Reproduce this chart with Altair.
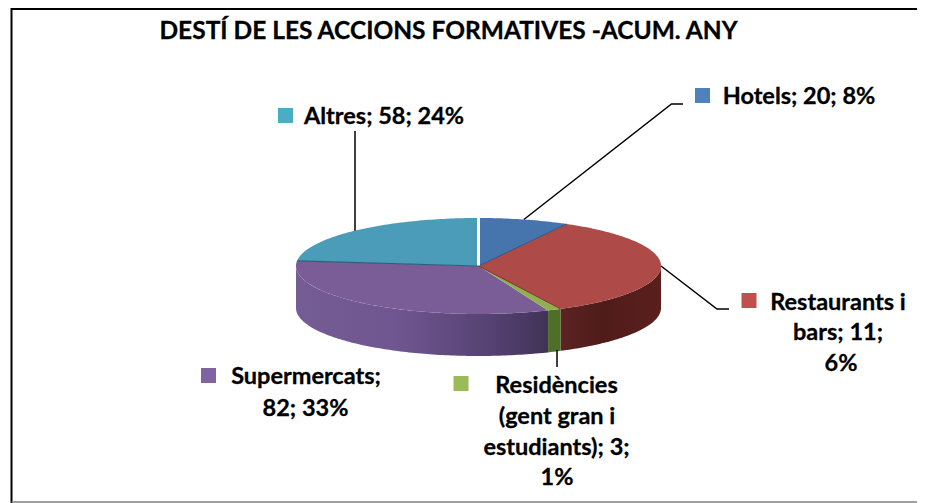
import math
import altair as alt
import pandas as pd

# ---- values ----
slices = ["Hotels", "Restaurants i bars", "Residències", "Supermercats", "Altres"]
slice_values = [20, 86, 3, 82, 58]
top_colors = ["#4674ad", "#ae4a47", "#90b04f", "#7a5c97", "#4a9cb8"]
key_colors = ["#4f81bd", "#c0504d", "#9bbb59", "#8064a2", "#4bacc6"]
title = "DESTÍ DE LES ACCIONS FORMATIVES -ACUM. ANY"

W, H = 909, 495
OX, OY = 8, 8
CX, CY, A, B, DEPTH = 478.5, 266.0, 182.5, 48.0, 42.0

xs = alt.Scale(domain=[OX, OX + W], range=[0, W], nice=False, zero=False)
ys = alt.Scale(domain=[OY, OY + H], range=[0, H], nice=False, zero=False)
X = lambda f="x": alt.X(f"{f}:Q", scale=xs, axis=None)
Y = lambda f="y": alt.Y(f"{f}:Q", scale=ys, axis=None)


def ell(t_deg, dy=0.0):
    t = math.radians(t_deg)
    return CX + A * math.sin(t), CY - B * math.cos(t) + dy


total = sum(slice_values)
edges = [0.0]
for v in slice_values:
    edges.append(edges[-1] + 360.0 * v / total)


def arc(t0, t1, dy=0.0):
    n = max(2, int(abs(t1 - t0)) + 1)
    return [ell(t0 + (t1 - t0) * i / n, dy) for i in range(n + 1)]


def poly(points, **mark):
    d = pd.DataFrame(points, columns=["x", "y"])
    d["o"] = range(len(d))
    return alt.Chart(d).mark_line(interpolate="linear", **mark).encode(
        x=X(), y=Y(), order="o:Q"
    )


def seg(points, width=1.5, color="#000000"):
    d = pd.DataFrame(points, columns=["x", "y"])
    d["o"] = range(len(d))
    return alt.Chart(d).mark_line(stroke=color, strokeWidth=width).encode(
        x=X(), y=Y(), order="o:Q"
    )


def grad(stops):
    return alt.Gradient(
        gradient="linear", x1=0, y1=0, x2=1, y2=0,
        stops=[alt.GradientStop(offset=o, color=c) for o, c in stops],
    )


layers = []

# frame: open on the right, as in the reference
layers.append(seg([(11.5, 9), (917, 9)], 2))
layers.append(seg([(11.5, 8), (11.5, 503)], 2))
layers.append(seg([(11.5, 502), (917, 502)], 1.5, "#808080"))


# side walls (front half only)
def wall(t0, t1, stops):
    t0, t1 = max(t0, 90), min(t1, 270)
    pts = arc(t0, t1) + arc(t1, t0, DEPTH)
    pts.append(pts[0])
    return poly(pts, fill=grad(stops), strokeWidth=0)


layers.append(wall(edges[1], edges[2], [(0, "#5c2321"), (0.4, "#4f1c1a"), (1, "#5a1f1d")]))
layers.append(wall(edges[3], edges[4], [(0, "#745c94"), (0.4, "#6f5690"), (0.8, "#544070"), (1, "#403256")]))
layers.append(wall(edges[2], edges[3], [(0, "#4f6e2a"), (1, "#4f6e2a")]))

# top faces
for i in [4, 0, 1, 3, 2]:
    pts = [(CX, CY)] + arc(edges[i], edges[i + 1]) + [(CX, CY)]
    layers.append(poly(pts, fill=top_colors[i], strokeWidth=0))

# slice separators
layers.append(seg([(CX, CY), ell(edges[1])], 1, "#34527a"))
layers.append(seg([(CX, CY), ell(edges[2])], 1, "#7a3331"))
layers.append(seg([(CX, CY), ell(edges[4])], 1.2, "#2f5f77"))
layers.append(seg([(CX, CY - 0.5), ell(0, 0)], 3, "#ffffff"))

# leader lines
layers.append(seg([ell(14.4), (671.5, 104), (683, 104)]))
layers.append(seg([ell(90), (717, 309), (729, 309)]))
layers.append(seg([ell(317.4), (355, 131)]))
layers.append(seg([(557, 350), (557, 367)]))

# legend keys inside labels
key_px = [(702.5, 95.5), (749, 300.5), (461, 383.5), (208.5, 375.5), (285.5, 115.5)]
for (x0, y0), c in zip(key_px, key_colors):
    layers.append(
        alt.Chart(pd.DataFrame({"x": [x0], "y": [y0]})).mark_square(
            size=225, color=c, opacity=1
        ).encode(x=X(), y=Y())
    )


# texts
def txt(text, x, y, size=23.5):
    return alt.Chart(pd.DataFrame({"x": [x], "y": [y], "t": [text]})).mark_text(
        font="Lato", fontWeight="bold", fontSize=size, align="center",
        baseline="middle", color="#000000", stroke="#000000", strokeWidth=0.3,
    ).encode(x=X(), y=Y(), text="t:N")


layers.append(txt(title, 448.5, 31.5, 24.5))
layers.append(txt("Hotels; 20; 8%", 799, 97))
layers.append(txt("Altres; 58; 24%", 384, 117))
layers.append(txt("Restaurants i", 838, 303))
layers.append(txt("bars; 11;", 838, 333))
layers.append(txt("6%", 841, 364))
layers.append(txt("Supermercats;", 306, 377))
layers.append(txt("82; 33%", 305.5, 409))
layers.append(txt("Residències", 556.5, 386))
layers.append(txt("(gent gran i", 557, 417))
layers.append(txt("estudiants); 3;", 556.5, 448))
layers.append(txt("1%", 557, 478))

chart = alt.layer(*layers).properties(
    width=W, height=H, padding=0,
    autosize=alt.AutoSizeParams(type="none"),
    background="#ffffff",
).configure_view(stroke=None)

chart.save("out.html", embed_options={"renderer": "svg", "actions": False})
